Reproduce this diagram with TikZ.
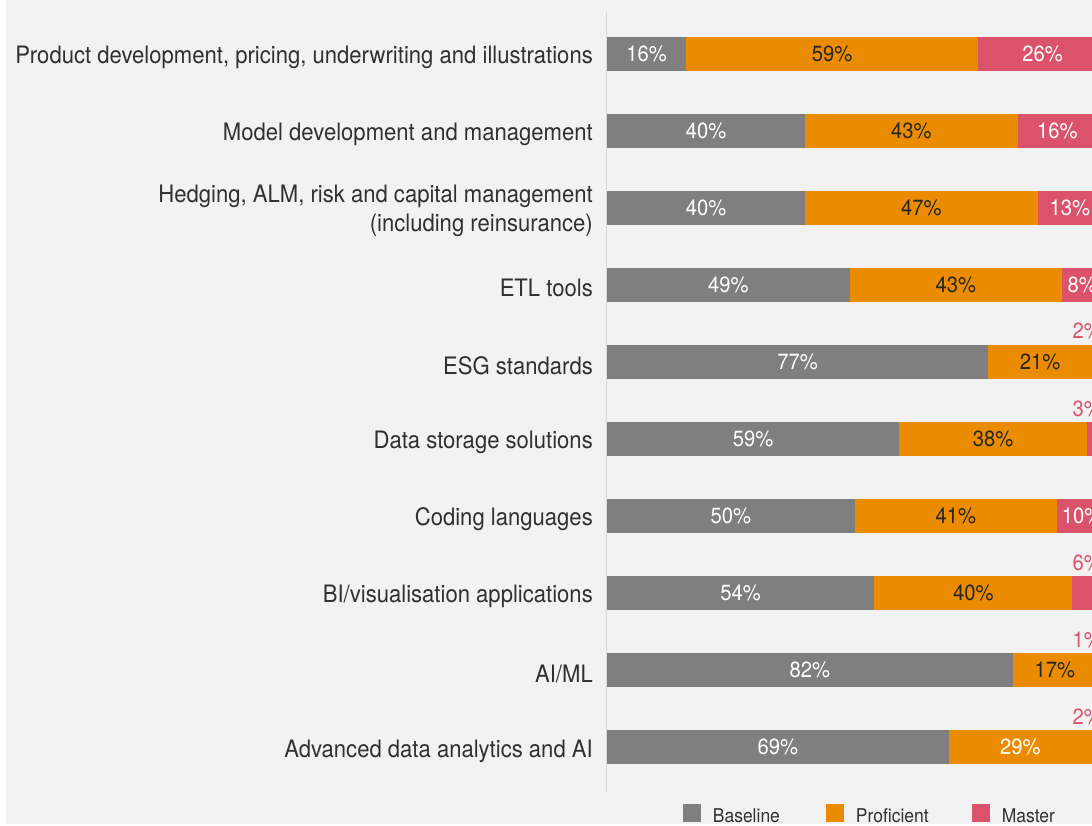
\documentclass[tikz,border=0pt]{standalone}
\usepackage{fontspec}
\setmainfont[FakeStretch=0.92]{TeX Gyre Heros}
\usepackage{tikz}
\usetikzlibrary{positioning}
\definecolor{barGray}{HTML}{7F7F7F}
\definecolor{barOrange}{HTML}{EB8C00}
\definecolor{barRose}{HTML}{DB536A}
\definecolor{panel}{HTML}{F2F2F2}
\definecolor{labelText}{HTML}{303030}

\begin{document}
\begin{tikzpicture}[x=1pt,y=-1pt,node distance=0pt,
                    pct/.style={minimum width=#1*4.95pt}]
  \tikzstyle{segment}=[rectangle,inner sep=0pt,outer sep=0pt,minimum height=34pt,
                       anchor=west,font=\fontsize{22}{24}\selectfont]
  \tikzstyle{base}=[segment,fill=barGray,text=white]
  \tikzstyle{prof}=[segment,fill=barOrange,text=black!85]
  \tikzstyle{mast}=[segment,fill=barRose,text=white]
  \tikzstyle{cat}=[inner sep=0pt,anchor=east,align=right,text=labelText,yshift=-3.5pt,
                   font=\fontsize{24}{29}\selectfont]
  \tikzstyle{outer}=[inner sep=0pt,anchor=base east,text=barRose,
                     font=\fontsize{22}{24}\selectfont]
  \tikzstyle{key}=[rectangle,inner sep=0pt,minimum size=18pt]
  \tikzstyle{keytext}=[inner sep=0pt,anchor=west,text=labelText,yshift=-2.5pt,
                       font=\fontsize{19}{21}\selectfont]

  \useasboundingbox (0,0) rectangle (1092,825);
  \clip (0,0) rectangle (1092,825);
  \fill[white] (0,0) rectangle (1092,825);
  \fill[panel] (6,0) rectangle (1092,824);

  % axis
  \coordinate (axtop) at (606.5,12);
  \coordinate (axbot) at (606.5,792);
  \draw[black!15,line width=1pt] (axtop) -- (axbot);

  % bars
  \node[base,pct=16] (b1) at (607,53.5) {16\%};
  \node[prof,pct=59] (p1) [right=of b1] {59\%};
  \node[mast,pct=26] (m1) [right=of p1] {26\%};

  \node[base,pct=40] (b2) at (607,130.6) {40\%};
  \node[prof,pct=43] (p2) [right=of b2] {43\%};
  \node[mast,pct=16] (m2) [right=of p2] {16\%};

  \node[base,pct=40] (b3) at (607,207.7) {40\%};
  \node[prof,pct=47] (p3) [right=of b3] {47\%};
  \node[mast,pct=13] (m3) [right=of p3] {13\%};

  \node[base,pct=49] (b4) at (607,284.8) {49\%};
  \node[prof,pct=43] (p4) [right=of b4] {43\%};
  \node[mast,pct=8]  (m4) [right=of p4] {8\%};

  \node[base,pct=77] (b5) at (607,361.9) {77\%};
  \node[prof,pct=21] (p5) [right=of b5] {21\%};
  \node[mast,pct=2]  (m5) [right=of p5] {};

  \node[base,pct=59] (b6) at (607,439) {59\%};
  \node[prof,pct=38] (p6) [right=of b6] {38\%};
  \node[mast,pct=3]  (m6) [right=of p6] {};

  \node[base,pct=50] (b7) at (607,516.1) {50\%};
  \node[prof,pct=41] (p7) [right=of b7] {41\%};
  \node[mast,pct=10] (m7) [right=of p7] {10\%};

  \node[base,pct=54] (b8) at (607,593.2) {54\%};
  \node[prof,pct=40] (p8) [right=of b8] {40\%};
  \node[mast,pct=6]  (m8) [right=of p8] {};

  \node[base,pct=82] (b9) at (607,670.3) {82\%};
  \node[prof,pct=17] (p9) [right=of b9] {17\%};
  \node[mast,pct=1]  (m9) [right=of p9] {};

  \node[base,pct=69] (b10) at (607,747.4) {69\%};
  \node[prof,pct=29,text=white] (p10) [right=of b10] {29\%};
  \node[mast,pct=2]  (m10) [right=of p10] {};

  % small shares above the bar end
  \node[outer] (o5)  at ([yshift=6pt]m5.north east)  {2\%};
  \node[outer] (o6)  at ([yshift=6pt]m6.north east)  {3\%};
  \node[outer] (o8)  at ([yshift=6pt]m8.north east)  {6\%};
  \node[outer] (o9)  at ([yshift=6pt]m9.north east)  {1\%};
  \node[outer] (o10) at ([yshift=6pt]m10.north east) {2\%};

  % categories
  \node[cat] (c1)  [left=14pt of b1]  {Product development, pricing, underwriting and illustrations};
  \node[cat] (c2)  [left=14pt of b2]  {Model development and management};
  \node[cat] (c3)  [left=14pt of b3]  {Hedging, ALM, risk and capital management\\(including reinsurance)};
  \node[cat] (c4)  [left=14pt of b4]  {ETL tools};
  \node[cat] (c5)  [left=14pt of b5]  {ESG standards};
  \node[cat] (c6)  [left=14pt of b6]  {Data storage solutions};
  \node[cat] (c7)  [left=14pt of b7]  {Coding languages};
  \node[cat] (c8)  [left=14pt of b8]  {BI/visualisation applications};
  \node[cat] (c9)  [left=14pt of b9]  {AI/ML};
  \node[cat] (c10) [left=14pt of b10] {Advanced data analytics and AI};

  % legend
  \node[key,fill=barGray]   (k1) at (692,813) {};
  \node[keytext] (t1) [right=11.5pt of k1] {Baseline};
  \node[key,fill=barOrange] (k2) at (835,813) {};
  \node[keytext] (t2) [right=11.5pt of k2] {Proficient};
  \node[key,fill=barRose]   (k3) at (981,813) {};
  \node[keytext] (t3) [right=11.5pt of k3] {Master};
\end{tikzpicture}
\end{document}
